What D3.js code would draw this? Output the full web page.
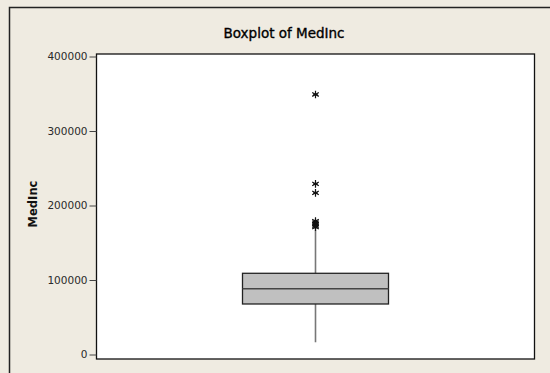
<!doctype html>
<html lang="en">
<head>
<meta charset="utf-8">
<title>Boxplot of MedInc</title>
<style>
  body { margin: 0; background: #efebe1; }
  svg { display: block; }
</style>
</head>
<body>
<svg id="chart"></svg>
<script src="https://d3js.org/d3.v7.min.js"></script>
<script>
// values
var category = ["MedInc"];
var quartiles = [67800, 88300, 109000];   // Q1, median, Q3
var whiskers = [16400, 167000];            // low, high
var outliers = [349000, 229000, 217000, 179000, 177000, 175000, 173000, 171000];
var yTicks = [0, 100000, 200000, 300000, 400000];

var width = 550, height = 373;
var plot = { left: 96.5, right: 534.5, top: 54, bottom: 359 };

var svg = d3.select("#chart").attr("width", width).attr("height", height);

// outer frame (right/bottom edges fall outside the window)
svg.append("rect")
    .attr("x", 9.5).attr("y", 7.5)
    .attr("width", width + 10).attr("height", height + 10)
    .attr("fill", "#efebe1").attr("stroke", "#222").attr("stroke-width", 1.5);

svg.append("text")
    .attr("x", 284).attr("y", 38)
    .attr("text-anchor", "middle")
    .style("font-family", "DejaVu Sans, sans-serif")
    .style("font-size", "13.5px")
    .attr("fill", "#000").attr("stroke", "#000").attr("stroke-width", 0.35)
    .text("Boxplot of MedInc");

var y = d3.scaleLinear().domain([0, 400000]).range([354.5, 56.5]);
var x = d3.scaleBand().domain(category).range([plot.left, plot.right])
    .paddingInner(0.5).paddingOuter(0.5);

svg.append("rect")
    .attr("x", plot.left).attr("y", plot.top)
    .attr("width", plot.right - plot.left).attr("height", plot.bottom - plot.top)
    .attr("fill", "#fff").attr("stroke", "#111").attr("stroke-width", 1.3);

var yAxis = svg.append("g")
    .attr("transform", "translate(" + plot.left + ",0)")
    .call(d3.axisLeft(y).tickValues(yTicks).tickSize(7).tickPadding(2).tickFormat(d3.format("d")));
yAxis.select(".domain").remove();
yAxis.selectAll("line").attr("stroke", "#444");
yAxis.selectAll("text")
    .attr("fill", "#2a2a2a")
    .style("font-family", "DejaVu Sans, sans-serif")
    .style("font-size", "10.5px");

svg.append("text")
    .attr("transform", "translate(37,204) rotate(-90)")
    .attr("text-anchor", "middle")
    .style("font-family", "DejaVu Sans, sans-serif")
    .style("font-size", "11.5px").style("font-weight", "bold")
    .attr("fill", "#111")
    .text("MedInc");

var g = svg.append("g").selectAll("g").data(category).enter().append("g");
var cx = x(category[0]) + x.bandwidth() / 2;

// whiskers
g.append("line")
    .attr("x1", cx).attr("x2", cx)
    .attr("y1", y(whiskers[1])).attr("y2", y(quartiles[2]))
    .attr("stroke", "#777").attr("stroke-width", 1.6);
g.append("line")
    .attr("x1", cx).attr("x2", cx)
    .attr("y1", y(quartiles[0])).attr("y2", y(whiskers[0]))
    .attr("stroke", "#777").attr("stroke-width", 1.6);

// box
g.append("rect")
    .attr("x", x(category[0])).attr("width", x.bandwidth())
    .attr("y", y(quartiles[2])).attr("height", y(quartiles[0]) - y(quartiles[2]))
    .attr("fill", "#c0c0c0").attr("stroke", "#222").attr("stroke-width", 1.3);
g.append("line")
    .attr("x1", x(category[0])).attr("x2", x(category[0]) + x.bandwidth())
    .attr("y1", y(quartiles[1])).attr("y2", y(quartiles[1]))
    .attr("stroke", "#444").attr("stroke-width", 1.5);

// outliers drawn as asterisks
var r = 3.8;
var star = "M0," + (-r) + "V" + r +
    "M" + (-r * 0.87) + "," + (-r * 0.5) + "L" + (r * 0.87) + "," + (r * 0.5) +
    "M" + (-r * 0.87) + "," + (r * 0.5) + "L" + (r * 0.87) + "," + (-r * 0.5) +
    "M" + (-r * 0.6) + ",0H" + (r * 0.6);
svg.append("g").selectAll("path").data(outliers).enter().append("path")
    .attr("transform", function(d) { return "translate(" + cx + "," + y(d) + ")"; })
    .attr("d", star)
    .attr("fill", "none").attr("stroke", "#111").attr("stroke-width", 1.2);
</script>
</body>
</html>
